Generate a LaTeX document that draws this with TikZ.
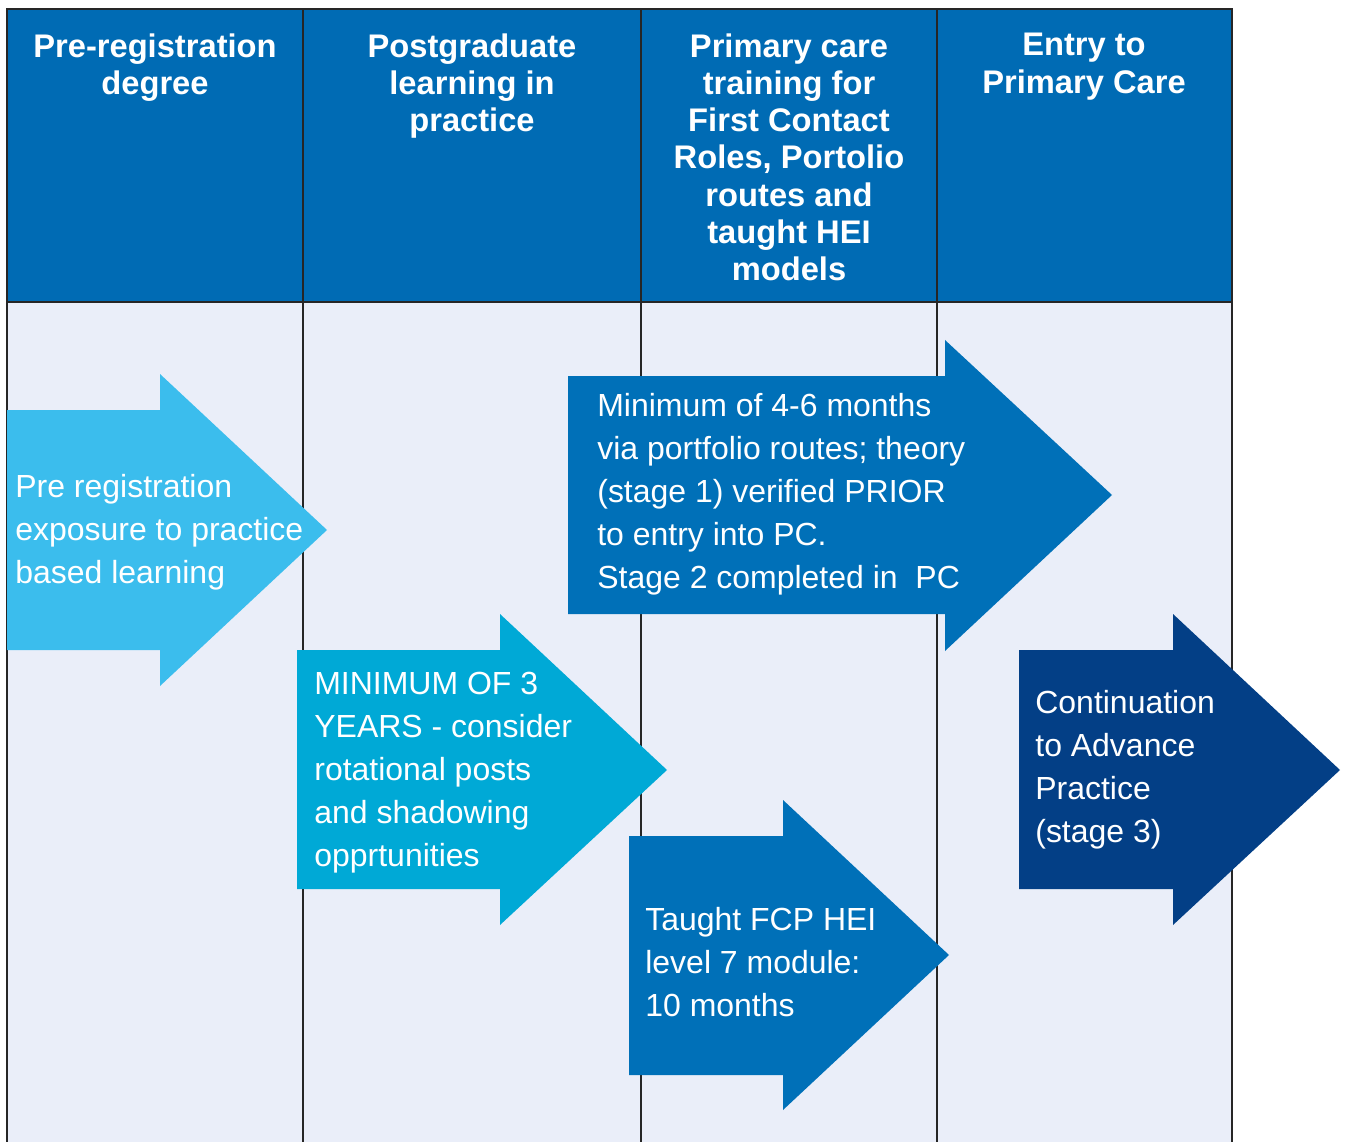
\documentclass[tikz,border=0pt]{standalone}
\usepackage{fontspec}
\setmainfont{Liberation Sans}
\definecolor{hdblue}{RGB}{0,107,180}
\definecolor{bodybg}{RGB}{234,238,249}
\definecolor{gridline}{RGB}{38,38,38}
\definecolor{skyarr}{RGB}{59,189,237}
\definecolor{cyanarr}{RGB}{0,169,214}
\definecolor{midarr}{RGB}{0,112,184}
\definecolor{darkarr}{RGB}{3,63,134}

\begin{document}
\begin{tikzpicture}[x=0.02cm,y=-0.02cm]
\tikzstyle{every node}=[inner sep=0pt, text=white, font=\fontsize{18.2}{24.5}\selectfont, align=left, anchor=west]
\tikzstyle{head}=[font=\fontsize{18.6}{21.2}\selectfont\bfseries, align=center, anchor=north]
\tikzstyle{grid}=[draw=gridline, line width=1.5pt]
\useasboundingbox (0,0) rectangle (1346,1142);
\fill[bodybg] (7,302) rectangle (1232,1142);
\fill[hdblue] (7,9) rectangle (1232,302);
\draw[grid] (7,1142) -- (7,9) -- (1232,9) -- (1232,1142);
\draw[grid] (7,302) -- (1232,302);
\foreach \x in {303,641,937} \draw[grid] (\x,9) -- (\x,1142);
\draw (155,33) node (h1) [head] {Pre-registration\\degree};
\draw (472,33) node (h2) [head] {Postgraduate\\learning in\\practice};
\draw (789,33) node (h3) [head] {Primary care\\training for\\First Contact\\Roles, Portolio\\routes and\\taught HEI\\models};
\draw (1084,33) node (h4) [head] {Entry to\\Primary Care};
\fill[skyarr] (7,410) -- (160,410) -- (160,374) -- (327,530) -- (160,686) -- (160,650) -- (7,650) -- cycle;
\fill[cyanarr] (297,650) -- (500,650) -- (500,614) -- (667,770) -- (500,925) -- (500,889) -- (297,889) -- cycle;
\fill[midarr] (568,376) -- (945,376) -- (945,340) -- (1112,495) -- (945,651) -- (945,614) -- (568,614) -- cycle;
\fill[midarr] (629,836) -- (783,836) -- (783,800) -- (949,955) -- (783,1110) -- (783,1075) -- (629,1075) -- cycle;
\fill[darkarr] (1019,650) -- (1173,650) -- (1173,614) -- (1340,770) -- (1173,925) -- (1173,889) -- (1019,889) -- cycle;
\draw (15,532) node (a1) {Pre registration\\exposure to practice\\based learning};
\draw (314,773) node (a2) {MINIMUM OF 3\\YEARS - consider\\rotational posts\\and shadowing\\opprtunities};
\draw (597,494) node (a3) {Minimum of 4-6 months\\via portfolio routes; theory\\(stage 1) verified PRIOR\\to entry into PC.\\Stage 2 completed in \ PC};
\draw (645,962) node (a4) {Taught FCP HEI\\level 7 module:\\10 months};
\draw (1035,770) node (a5) {Continuation\\to Advance\\Practice\\(stage 3)};
\end{tikzpicture}
\end{document}
